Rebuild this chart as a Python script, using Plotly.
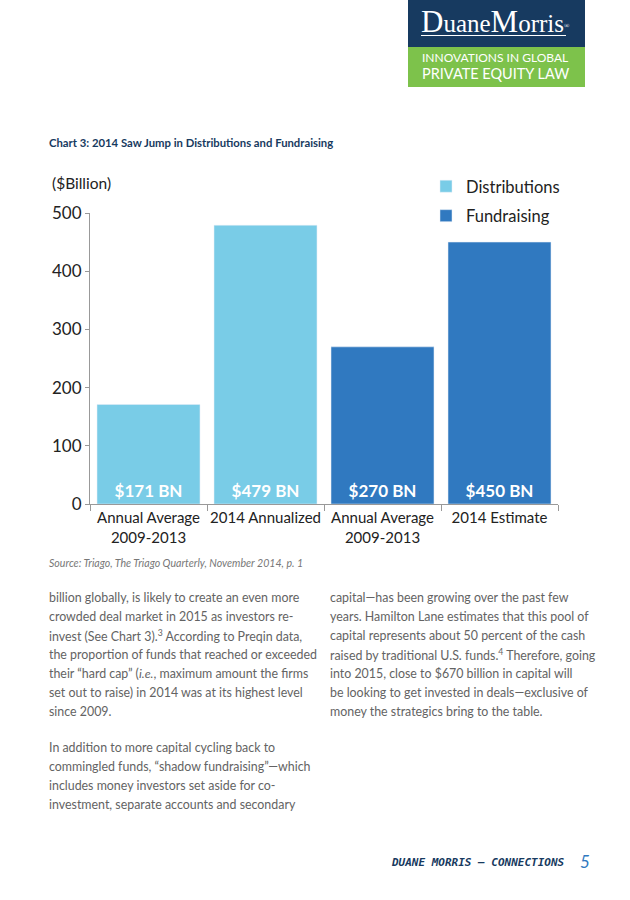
import plotly.graph_objects as go

categories = ["Annual Average<br>2009-2013", "2014 Annualized", "Annual Average<br>2009-2013", "2014 Estimate"]
dist_pos = [0, 1]
dist_vals = [171, 479]
fund_pos = [2, 3]
fund_vals = [270, 450]
y_ticks = [0, 100, 200, 300, 400, 500]

col1_lines = [
    "billion globally, is likely to create an even more",
    "crowded deal market in 2015 as investors re-",
    "invest (See Chart 3).<sup>3</sup> According to Preqin data,",
    "the proportion of funds that reached or exceeded",
    "their “hard cap” (<i>i.e.</i>, maximum amount the firms",
    "set out to raise) in 2014 was at its highest level",
    "since 2009.",
]
col1b_lines = [
    "In addition to more capital cycling back to",
    "commingled funds, “shadow fundraising”—which",
    "includes money investors set aside for co-",
    "investment, separate accounts and secondary",
]
col2_lines = [
    "capital—has been growing over the past few",
    "years. Hamilton Lane estimates that this pool of",
    "capital represents about 50 percent of the cash",
    "raised by traditional U.S. funds.<sup>4</sup> Therefore, going",
    "into 2015, close to $670 billion in capital will",
    "be looking to get invested in deals—exclusive of",
    "money the strategics bring to the table.",
]

W, H = 630, 900
L, R, T, B = 90, 558, 213, 504  # plot area in page pixels
FONT = "Lato"
LIGHT = "#79CCE7"
DARK = "#3079C0"
NAVY = "#173A60"
GREEN = "#7DC24B"
TEXT_GRAY = "#636363"


def px(x):
    return (x - L) / (R - L)


def py(y):
    return (B - y) / (B - T)


fig = go.Figure()
fig.add_trace(go.Bar(
    x=dist_pos, y=dist_vals, name="Distributions", marker_color=LIGHT,
    width=0.88, text=[f"${v} BN" for v in dist_vals], textposition="inside",
    insidetextanchor="start", textangle=0,
    textfont=dict(family=FONT, size=17, color="white", weight="bold"),
    legendgroup="a",
))
fig.add_trace(go.Bar(
    x=fund_pos, y=fund_vals, name="Fundraising", marker_color=DARK,
    width=0.88, text=[f"${v} BN" for v in fund_vals], textposition="inside",
    insidetextanchor="start", textangle=0,
    textfont=dict(family=FONT, size=17, color="white", weight="bold"),
    legendgroup="b",
))

shapes = [
    dict(type="rect", xref="paper", yref="paper", x0=px(408), x1=px(585), y0=py(0), y1=py(47),
         fillcolor=NAVY, line_width=0, layer="below"),
    dict(type="rect", xref="paper", yref="paper", x0=px(408), x1=px(585), y0=py(47), y1=py(87),
         fillcolor=GREEN, line_width=0, layer="below"),
    dict(type="line", xref="paper", yref="paper", x0=px(421), x1=px(566), y0=py(35.5), y1=py(35.5),
         line=dict(color="white", width=1)),
]

ann = []


def add_text(text, x, y, size, color, family=FONT, xanchor="left", weight=None):
    f = dict(family=family, size=size, color=color)
    if weight:
        f["weight"] = weight
    ann.append(dict(text=text, x=px(x), y=py(y), xref="paper", yref="paper",
                    xanchor=xanchor, yanchor="middle", showarrow=False, font=f))


add_text("D<span style='font-size:25px'>uane</span>M<span style='font-size:25px'>orris</span>"
         "<span style='font-size:10px'><sup>®</sup></span>",
         419, 22, 31, "white", family="Liberation Serif")
add_text("INNOVATIONS IN GLOBAL", 420, 58, 12, "white")
add_text("PRIVATE EQUITY LAW", 420, 74, 14.5, "white")
add_text("Chart 3: 2014 Saw Jump in Distributions and Fundraising", 47, 142, 11.3, NAVY, weight="bold")
add_text("($Billion)", 50, 183, 15.5, "#222222")
add_text("<i>Source: Triago, The Triago Quarterly, November 2014, p. 1</i>", 47, 563, 10.6, "#777777")


def add_lines(lines, x0, y0):
    for i, t in enumerate(lines):
        add_text(t, x0, y0 + 19 * i, 12.4, TEXT_GRAY)


add_lines(col1_lines, 47, 597)
add_lines(col1b_lines, 47, 747)
add_lines(col2_lines, 328, 597)

add_text("<b><i>DUANE MORRIS — CONNECTIONS</i></b>", 567, 862, 11, NAVY,
         family="DejaVu Sans Mono", xanchor="right")
add_text("<i>5</i>", 578, 861, 17, DARK)

fig.update_layout(
    width=W, height=H,
    margin=dict(l=L, r=W - R, t=T, b=H - B, pad=0),
    paper_bgcolor="white", plot_bgcolor="white",
    barmode="overlay",
    showlegend=True,
    legend=dict(x=px(426), y=py(169), xanchor="left", yanchor="top",
                font=dict(family=FONT, size=16.5, color="#222222"),
                itemwidth=30, tracegroupgap=5, bgcolor="rgba(0,0,0,0)"),
    shapes=shapes, annotations=ann,
    font=dict(family=FONT),
)
fig.update_xaxes(
    range=[-0.5, 3.5], tickmode="array", tickvals=[0, 1, 2, 3], ticktext=categories,
    ticks="", showline=True, linecolor="#999999", linewidth=1, showgrid=False, zeroline=False,
    tickfont=dict(family=FONT, size=15, color="#222222"),
    minor=dict(tickvals=[-0.5, 0.5, 1.5, 2.5, 3.5], ticks="outside", ticklen=6, tickcolor="#999999",
               showgrid=False),
)
fig.update_yaxes(
    range=[0, 500], tickmode="array", tickvals=y_ticks, ticks="outside", ticklen=4,
    tickcolor="#999999", showline=True, linecolor="#999999", linewidth=1, showgrid=False,
    zeroline=False, tickfont=dict(family=FONT, size=17, color="#222222"), ticklabelstandoff=0,
)

fig.write_html("out.html", config={"displayModeBar": False},
               post_script="document.body.style.margin='0';document.body.style.overflow='hidden';")
